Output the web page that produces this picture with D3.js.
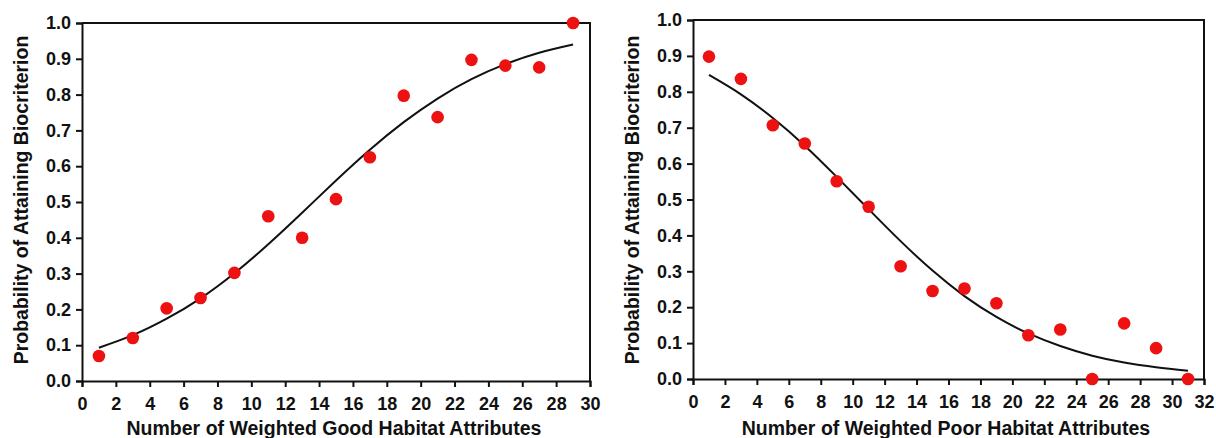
<!DOCTYPE html>
<html>
<head>
<meta charset="utf-8">
<script src="https://cdn.jsdelivr.net/npm/d3@7"></script>
<style>
  html, body { margin: 0; padding: 0; background: #fff; }
  svg { display: block; }
  text { font-family: "Liberation Sans", Arial, sans-serif; font-weight: bold; fill: #111; }
</style>
</head>
<body>
<svg id="chart" width="1216" height="438"></svg>
<script>
// ---- Data ----
const goodX = [1, 3, 5, 7, 9, 11, 13, 15, 17, 19, 21, 23, 25, 27, 29];
const goodObserved = [0.070, 0.120, 0.203, 0.232, 0.302, 0.460, 0.400, 0.508, 0.625, 0.797, 0.737, 0.897, 0.881, 0.876, 1.000];
const goodFitted = [0.093, 0.128, 0.174, 0.231, 0.301, 0.382, 0.470, 0.560, 0.646, 0.723, 0.789, 0.843, 0.885, 0.917, 0.940];

const poorX = [1, 3, 5, 7, 9, 11, 13, 15, 17, 19, 21, 23, 25, 27, 29, 31];
const poorObserved = [0.898, 0.836, 0.707, 0.656, 0.551, 0.480, 0.314, 0.245, 0.252, 0.211, 0.122, 0.138, 0.000, 0.155, 0.086, 0.000];
const poorFitted = [0.847, 0.793, 0.727, 0.650, 0.563, 0.473, 0.384, 0.302, 0.231, 0.173, 0.127, 0.092, 0.065, 0.046, 0.033, 0.023];

const yTicks = [0, 0.1, 0.2, 0.3, 0.4, 0.5, 0.6, 0.7, 0.8, 0.9, 1.0];
const goodXTicks = [0, 2, 4, 6, 8, 10, 12, 14, 16, 18, 20, 22, 24, 26, 28, 30];
const poorXTicks = [0, 2, 4, 6, 8, 10, 12, 14, 16, 18, 20, 22, 24, 26, 28, 30, 32];

const yTitle = "Probability of Attaining Biocriterion";
const goodXTitle = "Number of Weighted Good Habitat Attributes";
const poorXTitle = "Number of Weighted Poor Habitat Attributes";

// ---- Drawing ----
const svg = d3.select("#chart");

function panel(cfg) {
  const x = d3.scaleLinear().domain(cfg.xDomain).range([cfg.left, cfg.right]);
  const y = d3.scaleLinear().domain([0, 1]).range([cfg.bottom, cfg.top]);
  const g = svg.append("g");

  // frame (top and right)
  g.append("path")
    .attr("d", `M${cfg.left},${cfg.top}H${cfg.right}V${cfg.bottom}`)
    .attr("fill", "none").attr("stroke", "#111").attr("stroke-width", 2);

  // x axis
  const xa = g.append("g").attr("transform", `translate(0,${cfg.bottom})`)
    .call(d3.axisBottom(x).tickValues(cfg.xTicks).tickSize(6).tickPadding(10).tickFormat(d3.format("d")));
  // y axis
  const ya = g.append("g").attr("transform", `translate(${cfg.left},0)`)
    .call(d3.axisLeft(y).tickValues(yTicks).tickSize(6).tickPadding(5).tickFormat(d3.format(".1f")));
  [xa, ya].forEach(a => {
    a.select(".domain").attr("stroke", "#111").attr("stroke-width", 2);
    a.selectAll(".tick line").attr("stroke", "#111").attr("stroke-width", 2);
    a.selectAll(".tick text").style("font-size", "18px").attr("fill", "#111");
  });

  // fitted line
  g.append("path")
    .datum(cfg.xs.map((d, i) => [d, cfg.fit[i]]))
    .attr("fill", "none").attr("stroke", "#111").attr("stroke-width", 2)
    .attr("d", d3.line().x(d => x(d[0])).y(d => y(d[1])).curve(d3.curveNatural));

  // observed points
  g.selectAll("circle").data(cfg.xs.map((d, i) => [d, cfg.obs[i]])).join("circle")
    .attr("cx", d => x(d[0])).attr("cy", d => y(d[1])).attr("r", 6.3)
    .attr("fill", "#ee1111");

  // titles
  g.append("text")
    .attr("x", cfg.xTitleX).attr("y", 435)
    .attr("text-anchor", "middle").style("font-size", "19.5px")
    .text(cfg.xTitle);
  g.append("text")
    .attr("transform", `translate(${cfg.yTitleX},200) rotate(-90)`)
    .attr("text-anchor", "middle").style("font-size", "19.5px")
    .text(yTitle);
}

panel({ left: 82, right: 590, top: 23, bottom: 381, xDomain: [0, 30], xTicks: goodXTicks,
        xs: goodX, obs: goodObserved, fit: goodFitted, xTitle: goodXTitle, xTitleX: 334, yTitleX: 28 });
panel({ left: 693, right: 1204, top: 20, bottom: 379, xDomain: [0, 32], xTicks: poorXTicks,
        xs: poorX, obs: poorObserved, fit: poorFitted, xTitle: poorXTitle, xTitleX: 946, yTitleX: 639 });
</script>
</body>
</html>
